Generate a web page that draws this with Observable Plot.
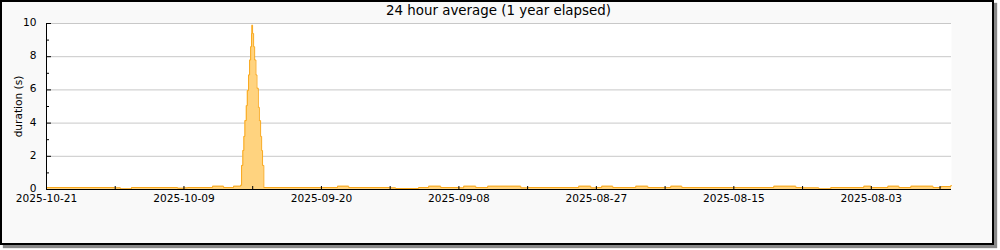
<!DOCTYPE html>
<html><head><meta charset="utf-8">
<script src="https://cdn.jsdelivr.net/npm/d3@7"></script>
<script src="https://cdn.jsdelivr.net/npm/@observablehq/plot@0.6"></script>
<style>
body{margin:0;background:#fff;font-family:"DejaVu Sans",sans-serif;}
#frame{position:absolute;left:0;top:0;width:990px;height:241px;border:2px solid #000;background:#f9f9f9;box-shadow:3px 3px 1px #888;}
#title{position:absolute;left:0;top:3px;width:997px;text-align:center;font-size:13.4px;line-height:16px;color:#000;}
#chart{position:absolute;left:0;top:0;}
</style></head><body>
<div id="frame"></div>
<div id="title">24 hour average (1 year elapsed)</div>
<div id="chart"></div>
<script>
// x = days before 2025-10-21 (axis runs backwards in time), y = duration in seconds
const days = [0, 5.94, 6.46, 7.42, 11.44, 11.97, 12.31, 14.50, 15.46, 16.33, 16.94,
  17.03, 17.14, 17.23, 17.32, 17.44, 17.53, 17.64, 17.73, 17.82, 17.90, 17.93,
  17.99, 18.08, 18.17, 18.28, 18.37, 18.49, 18.58, 18.69, 18.78, 18.86, 18.97,
  25.41, 26.38, 29.96, 30.48, 32.49, 33.36, 34.41, 35.98, 36.42, 37.47, 38.52,
  41.40, 42.01, 46.46, 47.51, 47.95, 48.47, 49.43, 51.44, 52.49, 54.50, 55.46,
  63.49, 65.41, 65.94, 67.42, 68.47, 71.35, 71.97, 73.45, 74.41, 75.46, 77.38,
  78.08, 78.95, 79];
const durations = [0.12, 0.10, 0.04, 0.12, 0.08, 0.10, 0.12, 0.20, 0.12, 0.20, 0.25,
  1.45, 2.35, 3.2, 4.15, 5.05, 5.96, 6.9, 7.8, 8.6, 9.4, 9.9,
  9.4, 8.6, 7.8, 6.9, 6.1, 4.95, 4.15, 3.2, 2.35, 1.45, 0.12,
  0.20, 0.12, 0.10, 0.06, 0.12, 0.20, 0.12, 0.10, 0.20, 0.12, 0.20,
  0.10, 0.12, 0.20, 0.10, 0.12, 0.20, 0.12, 0.20, 0.12, 0.20, 0.12,
  0.20, 0.12, 0.10, 0.04, 0.12, 0.20, 0.12, 0.20, 0.12, 0.20, 0.12,
  0.18, 0.24, 0.24];
const tickDays = [0, 12, 24, 36, 48, 60, 72];
const tickLabels = ["2025-10-21", "2025-10-09", "2025-09-20", "2025-09-08", "2025-08-27", "2025-08-15", "2025-08-03"];
const minorTickDays = [0, 6, 12, 18, 24, 30, 36, 42, 48, 54, 60, 66, 72, 78];
const yTicks = [0, 2, 4, 6, 8, 10];
const yMinorTicks = [1, 3, 5, 7, 9];

const data = days.map((d, i) => ({d, v: durations[i]}));

const chart = Plot.plot({
  width: 1000, height: 250,
  marginLeft: 46, marginRight: 49, marginTop: 23, marginBottom: 61,
  style: {background: "transparent", fontFamily: "DejaVu Sans", fontSize: "10.6px", color: "#000"},
  x: {domain: [0, 79]},
  y: {domain: [0, 10]},
  marks: [
    Plot.frame({fill: "white", stroke: "none"}),
    Plot.gridY(yTicks.filter(t => t > 0), {stroke: "#c8c8c8", strokeOpacity: 1}),
    Plot.areaY(data, {x: "d", y: "v", curve: "step-after", fill: "#ffd37f"}),
    Plot.lineY(data, {x: "d", y: "v", curve: "step-after", stroke: "#f9a81c", strokeWidth: 1}),
    Plot.axisY(yTicks, {anchor: "right", frameAnchor: "left", tickSize: 4, tickFormat: () => "", label: null}),
    Plot.axisY(yMinorTicks, {anchor: "right", frameAnchor: "left", tickSize: 2, tickFormat: () => "", label: null}),
    Plot.axisY(yTicks, {anchor: "left", tickSize: 0, tickPadding: 10, dy: -1, label: "duration (s)", labelAnchor: "center", labelArrow: "none", labelOffset: 32}),
    Plot.axisX(minorTickDays, {anchor: "top", frameAnchor: "bottom", tickSize: 4, tickFormat: () => "", label: null}),
    Plot.axisX(tickDays, {anchor: "bottom", tickSize: 0, tickPadding: 5, tickFormat: d => tickLabels[tickDays.indexOf(d)], label: null}),
    Plot.ruleX([0], {stroke: "#000"}),
    Plot.ruleY([0], {stroke: "#000"})
  ]
});
document.getElementById("chart").appendChild(chart);
</script>
</body></html>
